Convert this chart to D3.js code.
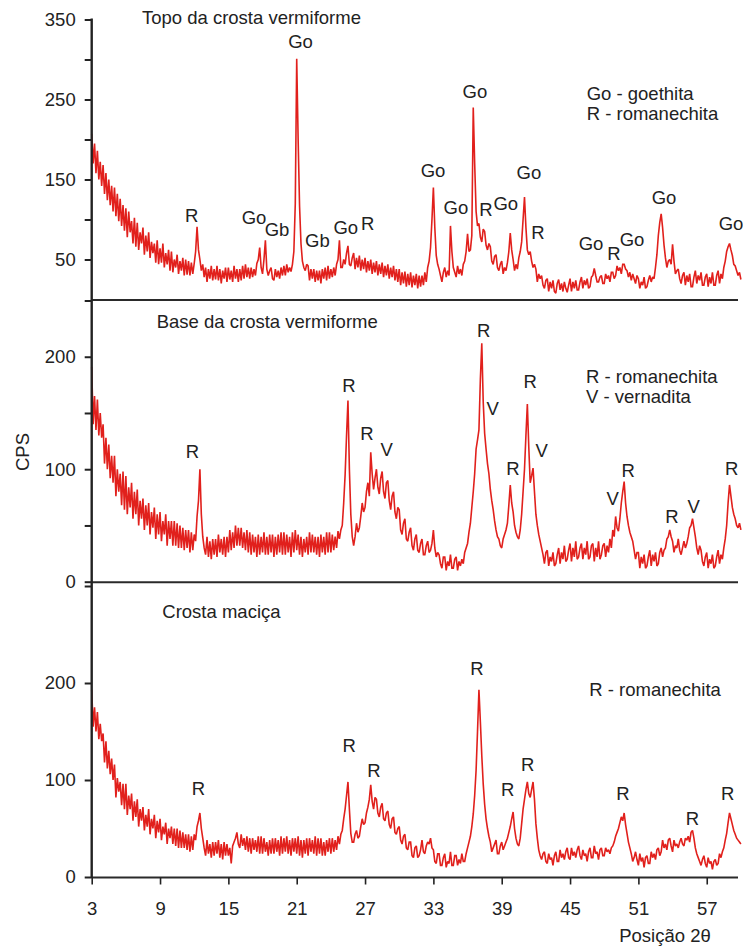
<!DOCTYPE html>
<html><head><meta charset="utf-8">
<script src="https://cdn.jsdelivr.net/npm/d3@7"></script>
<style>
body{margin:0;background:#fff}
svg{display:block}
text{font-family:"Liberation Sans",Arial,Helvetica,sans-serif;fill:#222}
</style>
</head><body>
<svg id="chart" width="743" height="949"></svg>
<script>
// 2θ sampling: start 3°, step 0.125° (one row = one degree)
const thetaStart = 3, thetaStep = 0.125;

// Topo da crosta vermiforme (CPS)
const topoCPS = [
207,170,195,158,186,150,172,142,
168,132,158,124,150,118,142,110,
140,104,132,98,126,92,118,86,
114,78,110,84,98,70,102,66,
96,62,84,70,90,56,80,60,
84,52,72,58,70,46,74,44,
64,46,70,40,58,44,62,36,
60,34,50,40,56,32,48,36,
52,30,50,31,48,30,46,32,
45,60,91,62,50,36,44,28,
40,22,38,26,42,24,38,25,
42,24,38,20,36,26,40,22,
40,25,36,22,42,26,38,22,
38,24,42,26,44,28,40,26,
40,28,38,30,45,50,65,40,
32,50,74,38,30,36,40,26,
24,38,28,36,26,40,30,42,
30,44,34,40,35,44,60,120,
301,200,117,70,48,40,36,44,
42,24,38,26,38,22,36,24,
36,20,38,26,40,24,42,26,
38,28,40,30,44,50,74,40,
40,50,44,58,67,44,42,52,
58,38,52,40,55,36,50,38,
52,34,48,36,50,32,46,34,
48,30,44,32,46,28,42,30,
44,26,40,28,42,24,38,22,
38,18,34,20,35,16,32,18,
34,15,30,18,32,14,30,16,
30,18,34,22,40,48,65,100,
140,90,55,44,38,30,22,34,
40,28,36,30,92,60,40,34,
28,42,32,38,30,44,48,60,
82,60,62,80,240,170,110,92,
95,78,72,88,85,68,62,70,
66,48,44,54,56,40,36,44,
48,32,40,36,46,60,83,62,
50,36,44,38,52,60,72,100,
128,90,62,56,60,48,40,44,
38,22,32,26,30,18,14,24,
26,10,22,14,24,10,8,20,
25,12,20,10,22,14,9,18,
26,10,22,14,24,12,12,22,
28,14,24,18,26,14,16,28,
30,39,30,22,22,28,30,20,
20,32,26,30,22,34,34,26,
30,42,36,40,32,44,44,38,
36,28,34,24,32,26,20,30,
26,14,22,18,28,14,16,24,
30,22,28,26,40,56,80,96,
107,90,68,52,40,48,50,44,
69,48,32,36,38,26,20,30,
34,18,30,22,32,16,16,28,
36,20,30,24,34,18,18,28,
32,16,28,20,34,18,18,30,
36,20,32,26,40,48,60,66,
70,62,55,44,42,36,30,34,
25
];

// Base da crosta vermiforme (CPS)
const baseCPS = [
191,140,165,135,162,130,150,128,
140,105,128,100,122,92,112,88,
112,76,100,80,96,68,98,64,
94,60,84,66,88,56,80,60,
82,50,72,56,74,46,68,50,
70,42,62,48,66,38,60,42,
62,36,54,42,60,32,54,38,
54,32,54,32,52,30,50,30,
48,28,46,30,46,26,44,28,
42,36,58,72,100,60,40,30,
24,40,22,36,20,38,24,38,
22,42,26,38,24,40,22,40,
26,46,28,44,30,50,32,48,
32,48,30,44,28,46,26,44,
24,42,26,40,22,42,24,40,
26,44,24,40,24,42,26,42,
22,40,24,42,26,44,24,44,
24,42,26,40,22,44,26,46,
28,42,24,40,22,38,26,40,
24,44,26,42,26,40,24,40,
22,42,26,40,24,44,26,44,
26,42,28,40,30,45,38,46,
50,70,95,130,161,100,60,40,
32,40,52,44,48,58,70,62,
66,80,88,76,115,96,82,92,
100,84,78,92,98,80,74,88,
90,72,64,76,80,62,56,66,
64,46,42,52,56,38,36,44,
48,32,28,38,42,28,26,34,
38,24,24,32,36,26,28,34,
46,30,22,26,24,16,12,22,
22,10,18,14,24,12,12,20,
22,10,18,14,20,16,26,30,
34,44,52,66,80,96,118,126,
135,180,212,160,132,118,105,96,
82,72,64,54,46,40,38,32,
30,38,42,46,52,68,86,70,
62,50,44,40,38,46,60,80,
100,130,158,120,88,94,101,80,
60,50,42,36,30,24,16,26,
28,14,22,18,26,14,16,24,
30,16,26,20,32,18,20,28,
34,18,30,22,36,20,22,30,
34,20,30,24,36,20,22,32,
34,18,30,22,36,20,24,32,
34,22,32,26,38,30,46,40,
58,48,45,56,70,80,89,70,
58,50,44,40,36,28,20,26,
26,12,22,16,24,12,14,22,
28,14,24,18,26,14,16,26,
30,22,28,30,38,40,46,40,
36,26,32,30,38,28,24,30,
36,30,34,40,48,50,56,48,
40,30,24,32,28,18,14,22,
26,12,20,16,24,12,14,22,
28,16,24,20,30,38,50,70,
86,76,66,60,56,50,48,52,
46
];

// Crosta maciça (CPS)
const macicaCPS = [
193,155,175,150,170,142,158,140,
148,118,140,112,130,106,122,100,
116,82,102,88,98,74,96,70,
96,64,84,70,86,58,78,62,
80,52,70,58,72,48,64,52,
70,44,60,50,64,40,58,46,
60,38,52,44,56,34,50,40,
52,34,50,32,50,30,48,30,
46,30,44,28,44,26,42,28,
44,38,52,58,66,50,40,30,
22,38,24,34,20,36,22,36,
24,38,20,34,18,36,22,34,
22,30,14,32,36,40,46,34,
30,44,32,40,28,42,26,40,
24,40,28,38,26,42,24,42,
24,40,26,36,22,38,24,40,
24,40,26,38,22,42,24,40,
26,42,24,38,22,40,26,40,
24,42,22,38,20,38,24,40,
22,40,26,38,24,42,22,40,
24,40,22,36,22,38,26,40,
24,40,26,38,28,42,34,44,
48,60,70,84,98,70,45,36,
36,44,48,40,42,52,60,54,
56,66,72,80,95,78,70,82,
80,66,62,72,76,60,58,66,
68,54,50,60,62,46,44,50,
52,38,34,42,44,30,28,36,
36,22,20,30,32,20,22,28,
38,26,24,32,36,34,40,30,
28,16,14,24,24,12,12,20,
24,10,16,14,26,12,12,22,
22,12,18,14,24,16,16,24,
30,36,42,52,65,84,110,150,
193,160,125,96,75,60,50,42,
36,26,30,34,38,24,24,32,
36,28,32,36,40,46,52,60,
67,50,40,34,32,40,55,70,
80,90,98,86,82,90,98,80,
55,40,28,22,18,24,26,16,
14,24,18,20,12,22,26,16,
16,28,20,24,18,26,30,20,
18,30,22,26,20,28,32,22,
18,28,22,24,16,26,30,20,
20,32,24,26,18,28,30,22,
22,30,26,28,24,30,32,36,
42,46,50,56,62,58,66,54,
45,36,30,24,16,20,26,18,
12,24,16,20,10,20,22,14,
14,26,20,24,18,28,30,22,
26,38,30,34,28,38,40,32,
26,38,32,34,30,36,40,34,
32,40,38,42,36,46,48,40,
30,24,20,16,12,18,22,14,
10,20,14,16,8,16,18,12,
14,24,20,26,30,38,45,56,
66,60,54,48,44,40,38,36,
34
];

// Axis ticks
const xTicks = [3, 9, 15, 21, 27, 33, 39, 45, 51, 57];
const topoTicks = [50, 100, 150, 200, 250, 300, 350];
const topoTickLabels = [50, 150, 250, 350];
const baseTicks = [0, 50, 100, 150, 200, 250];
const baseTickLabels = [0, 100, 200];
const macicaTicks = [0, 100, 200, 300];
const macicaTickLabels = [0, 100, 200];

// Titles / legends [text, 2θ, CPS] (text starts at that point)
const topoTexts = [["Topo da crosta vermiforme", 7.41, 343.8], ["Go - goethita", 46.46, 248.8], ["R - romanechita", 46.46, 223.8]];
const baseTexts = [["Base da crosta vermiforme", 8.71, 225.2], ["R - romanechita", 46.4, 176.4], ["V - vernadita", 46.4, 158.6]];
const macicaTexts = [["Crosta maciça", 9.2, 266.7], ["R - romanechita", 46.69, 186.6]];

// Peak labels [text, 2θ, CPS] (centred)
const topoPeaks = [
["R",11.78,96.6],["Go",17.25,94.6],["Gb",19.27,80],["Go",21.33,313.8],["Gb",22.82,65.4],
["Go",25.31,82.1],["R",27.24,86.3],["Go",32.97,152.9],["Go",34.98,106.3],["Go",36.65,252.5],
["R",37.62,103.8],["Go",39.36,112.1],["Go",41.39,150.9],["R",42.18,75.9],["Go",46.84,61.3],
["R",48.86,48.8],["Go",50.44,66.3],["Go",53.25,119.6],["Go",59.13,86.3]
];
const basePeaks = [
["R",11.85,109.7],["R",25.59,168.9],["R",27.17,126],["V",28.9,111.7],["R",37.42,217.8],
["V",38.21,148.2],["R",39.99,94.8],["R",41.51,171.9],["V",42.51,111.1],["V",48.74,68.2],
["R",50.11,93.3],["R",53.95,51.9],["V",55.85,61.3],["R",59.19,94.8]
];
const macicaPeaks = [
["R",12.38,84.5],["R",25.61,129.2],["R",27.77,103.4],["R",36.83,208.2],["R",39.53,83.5],
["R",41.29,109.3],["R",49.65,79.4],["R",55.75,53.6],["R",58.85,79.4]
];

const FONT = 18.5;
const RED = "#e1201c";
const INK = "#222";

const svg = d3.select("#chart");
const x = d3.scaleLinear().domain([3, 60]).range([91.7, 740.9]);
const xEnd = 738;

const panels = [
  {cps: topoCPS, y: d3.scaleLinear().domain([0, 350]).range([299.5, 19.5]), ticks: topoTicks, tl: topoTickLabels, texts: topoTexts, peaks: topoPeaks},
  {cps: baseCPS, y: d3.scaleLinear().domain([0, 250]).range([581.7, 300.5]), ticks: baseTicks, tl: baseTickLabels, texts: baseTexts, peaks: basePeaks},
  {cps: macicaCPS, y: d3.scaleLinear().domain([0, 300]).range([877, 586]), ticks: macicaTicks, tl: macicaTickLabels, texts: macicaTexts, peaks: macicaPeaks}
];

panels.forEach(p => {
  const pts = p.cps.map((v, i) => [thetaStart + i * thetaStep, v]);
  const line = d3.line().x(d => x(d[0])).y(d => p.y(d[1]));
  svg.append("path").datum(pts).attr("d", line)
    .attr("fill", "none").attr("stroke", RED).attr("stroke-width", 1.6)
    .attr("stroke-linejoin", "miter").attr("stroke-miterlimit", 2);

  // baseline / separator
  svg.append("line").attr("x1", x(3)).attr("x2", xEnd)
    .attr("y1", p.y(0) + 0.5).attr("y2", p.y(0) + 0.5)
    .attr("stroke", "#2a2a2a").attr("stroke-width", 2);

  const ax = d3.axisLeft(p.y).tickValues(p.ticks).tickSize(7).tickPadding(9)
    .tickFormat(d => p.tl.includes(d) ? String(d) : "");
  const g = svg.append("g").attr("transform", `translate(${x(3)},0)`).call(ax);
  g.select(".domain").remove();
  g.selectAll(".tick line").attr("stroke", INK).attr("stroke-width", 2);
  g.selectAll(".tick text").attr("font-size", FONT).attr("fill", INK)
    .attr("font-family", '"Liberation Sans",Arial,sans-serif');

  svg.append("g").selectAll("text").data(p.texts).join("text")
    .attr("x", d => x(d[1])).attr("y", d => p.y(d[2]))
    .attr("font-size", FONT).text(d => d[0]);

  svg.append("g").selectAll("text").data(p.peaks).join("text")
    .attr("x", d => x(d[1])).attr("y", d => p.y(d[2]))
    .attr("text-anchor", "middle").attr("font-size", FONT).text(d => d[0]);
});

// continuous vertical axis line
svg.append("line").attr("x1", x(3)).attr("x2", x(3))
  .attr("y1", panels[0].y(350) - 1).attr("y2", panels[2].y(0) + 1)
  .attr("stroke", INK).attr("stroke-width", 2.4);

// bottom x axis
const xa = d3.axisBottom(x).tickValues(xTicks).tickSize(7).tickPadding(17.5).tickFormat(d3.format("d"));
const gx = svg.append("g").attr("transform", `translate(0,${panels[2].y(0) + 0.5})`).call(xa);
gx.select(".domain").remove();
gx.selectAll(".tick line").attr("stroke", INK).attr("stroke-width", 1.6);
gx.selectAll(".tick text").attr("font-size", FONT).attr("fill", INK)
  .attr("font-family", '"Liberation Sans",Arial,sans-serif');

// axis titles
svg.append("text").attr("transform", "translate(29,452) rotate(-90)")
  .attr("text-anchor", "middle").attr("font-size", FONT).text("CPS");
svg.append("text").attr("x", 665).attr("y", 941.5)
  .attr("text-anchor", "middle").attr("font-size", FONT).text("Posição 2θ");
</script>
</body></html>
